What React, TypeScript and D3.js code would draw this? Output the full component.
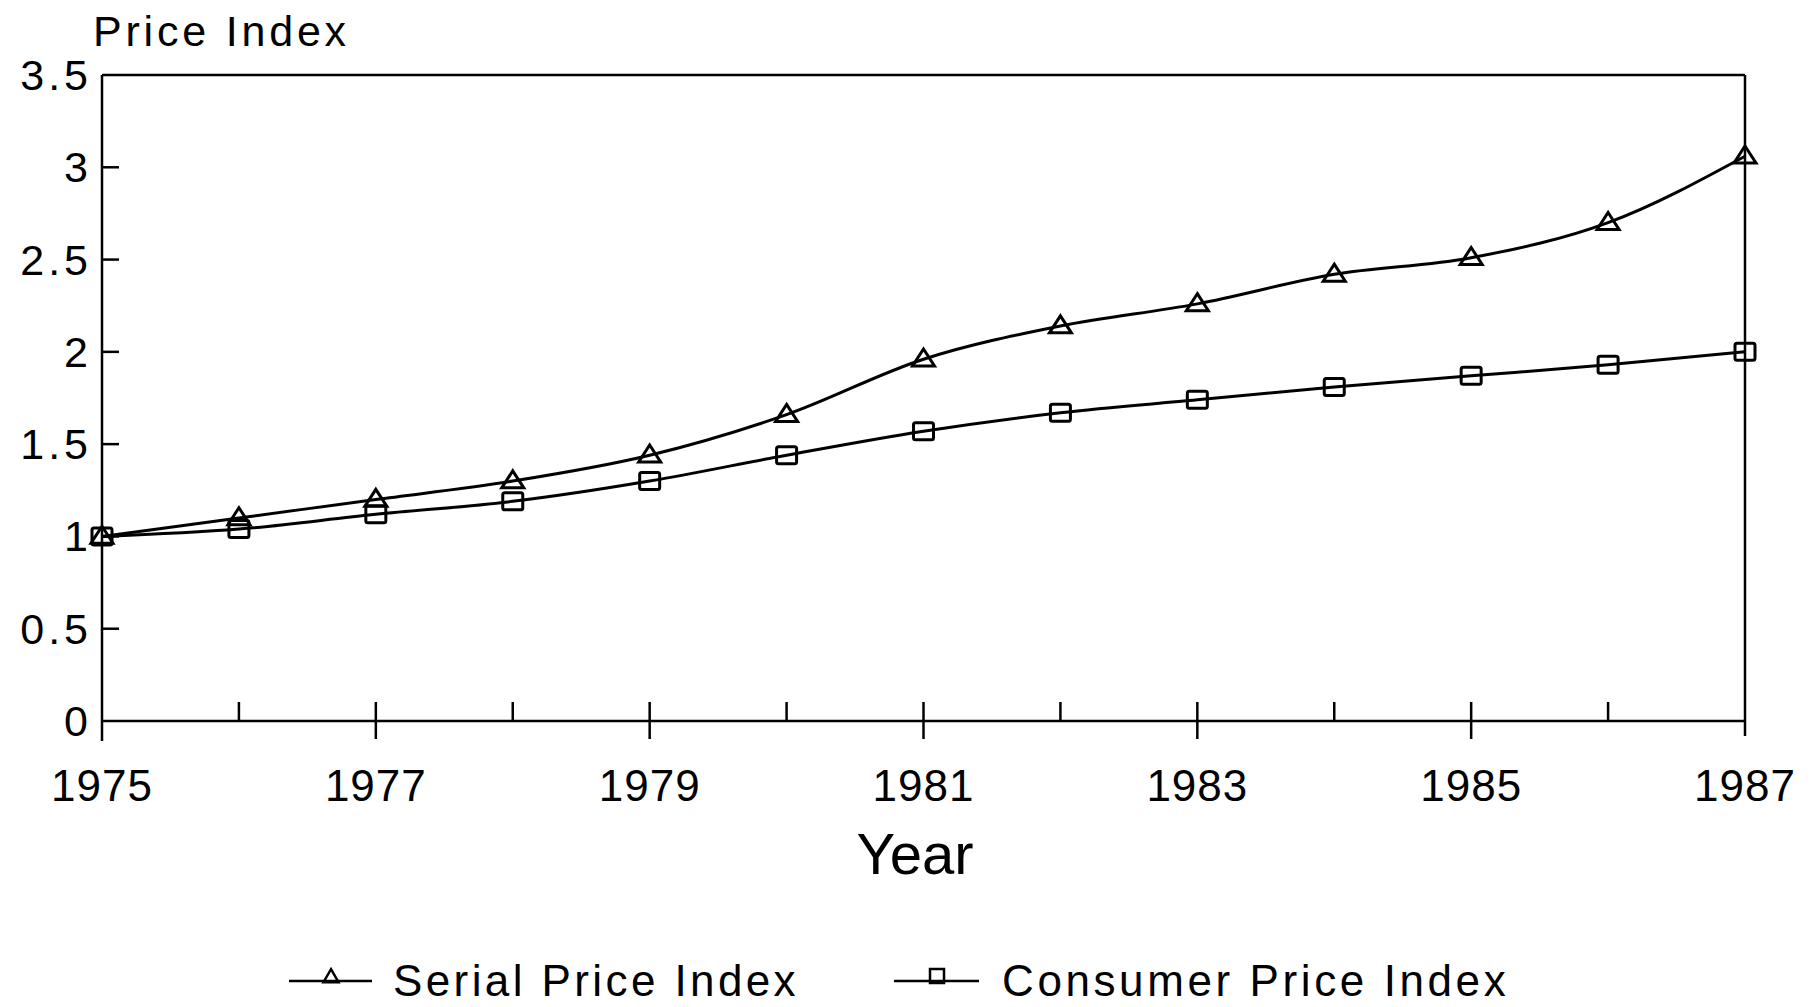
import React from "react";
import * as d3 from "d3";

const years = [1975, 1976, 1977, 1978, 1979, 1980, 1981, 1982, 1983, 1984, 1985, 1986, 1987];
const serialIndex = [1.0, 1.1, 1.2, 1.3, 1.44, 1.66, 1.96, 2.14, 2.26, 2.42, 2.51, 2.7, 3.06];
const consumerIndex = [1.0, 1.04, 1.12, 1.19, 1.3, 1.44, 1.57, 1.67, 1.74, 1.81, 1.87, 1.93, 2.0];
const yTicks = [0, 0.5, 1, 1.5, 2, 2.5, 3, 3.5];
const xLabelYears = [1975, 1977, 1979, 1981, 1983, 1985, 1987];
const seriesNames = ["Serial Price Index", "Consumer Price Index"];

const W = 1810;
const H = 1007;
const M = { left: 102, right: 1745, top: 75, bottom: 721 };
const FONT = "'Liberation Sans', Arial, Helvetica, sans-serif";

export default function App() {
  const x = d3.scaleLinear().domain([1975, 1987]).range([M.left, M.right]);
  const y = d3.scaleLinear().domain([0, 3.5]).range([M.bottom, M.top]);
  const line = d3
    .line<[number, number]>()
    .x((d) => x(d[0]))
    .y((d) => y(d[1]))
    .curve(d3.curveMonotoneX);

  const serialPts: [number, number][] = years.map((yr, i) => [yr, serialIndex[i]]);
  const cpiPts: [number, number][] = years.map((yr, i) => [yr, consumerIndex[i]]);

  const tri = (cx: number, cy: number, w: number, h: number) =>
    `M${cx},${cy - h * 0.6}L${cx + w / 2},${cy + h * 0.4}L${cx - w / 2},${cy + h * 0.4}Z`;

  const legendY = 981;

  return (
    <svg
      width={W}
      height={H}
      style={{ position: "absolute", left: 0, top: 0, background: "#fff" }}
      fontFamily={FONT}
    >
      <rect x={0} y={0} width={W} height={H} fill="#fff" />
      {/* frame */}
      <line x1={M.left} x2={M.right} y1={M.top} y2={M.top} stroke="#000" strokeWidth={2.5} />
      <line x1={M.left} x2={M.left} y1={M.top} y2={M.bottom + 20} stroke="#000" strokeWidth={2.5} />
      <line x1={M.right} x2={M.right} y1={M.top} y2={M.bottom + 15} stroke="#000" strokeWidth={2.5} />
      <line x1={M.left} x2={M.right} y1={M.bottom} y2={M.bottom} stroke="#000" strokeWidth={2.5} />

      {/* y ticks */}
      {yTicks.map((t) => (
        <g key={"y" + t}>
          {t > 0 && t < 3.5 && (
            <line x1={M.left} x2={M.left + 17} y1={y(t)} y2={y(t)} stroke="#000" strokeWidth={2.5} />
          )}
          <text
            x={92}
            y={y(t) + 15}
            textAnchor="end"
            fontSize={43}
            letterSpacing={4}
            fill="#000"
          >
            {String(t)}
          </text>
        </g>
      ))}

      {/* x ticks */}
      {years.map((yr) => {
        const labeled = xLabelYears.includes(yr);
        if (yr === 1975 || yr === 1987) return null;
        return (
          <line
            key={"xt" + yr}
            x1={x(yr)}
            x2={x(yr)}
            y1={M.bottom - 19}
            y2={labeled ? M.bottom + 18 : M.bottom}
            stroke="#000"
            strokeWidth={2.5}
          />
        );
      })}
      {xLabelYears.map((yr) => (
        <text key={"xl" + yr} x={x(yr)} y={801} textAnchor="middle" fontSize={44} letterSpacing={1} fill="#000">
          {yr}
        </text>
      ))}

      <text x={915} y={874} textAnchor="middle" fontSize={58} fill="#000">
        Year
      </text>
      <text x={93} y={46} fontSize={43} letterSpacing={3.8} fill="#000">
        Price Index
      </text>

      {/* lines */}
      <path d={line(serialPts) || ""} fill="none" stroke="#000" strokeWidth={3} />
      <path d={line(cpiPts) || ""} fill="none" stroke="#000" strokeWidth={3} />

      {serialPts.map((p, i) => (
        <path key={"s" + i} d={tri(x(p[0]), y(p[1]), 22, 17)} fill="none" stroke="#000" strokeWidth={3} />
      ))}
      {cpiPts.map((p, i) => (
        <rect
          key={"c" + i}
          x={x(p[0]) - 10}
          y={y(p[1]) - 8.5}
          width={20}
          height={17}
          rx={2}
          fill="none"
          stroke="#000"
          strokeWidth={3}
        />
      ))}

      {/* legend */}
      <line x1={289} x2={372} y1={legendY} y2={legendY} stroke="#000" strokeWidth={2.5} />
      <path d={tri(331, legendY - 4, 15, 13)} fill="none" stroke="#000" strokeWidth={2.5} />
      <text x={393} y={996} fontSize={44} letterSpacing={3.4} fill="#000">
        {seriesNames[0]}
      </text>
      <line x1={894} x2={979} y1={legendY} y2={legendY} stroke="#000" strokeWidth={2.5} />
      <rect x={930} y={legendY - 12} width={14} height={14} fill="none" stroke="#000" strokeWidth={2.5} />
      <text x={1002} y={996} fontSize={44} letterSpacing={3.6} fill="#000">
        {seriesNames[1]}
      </text>
    </svg>
  );
}
